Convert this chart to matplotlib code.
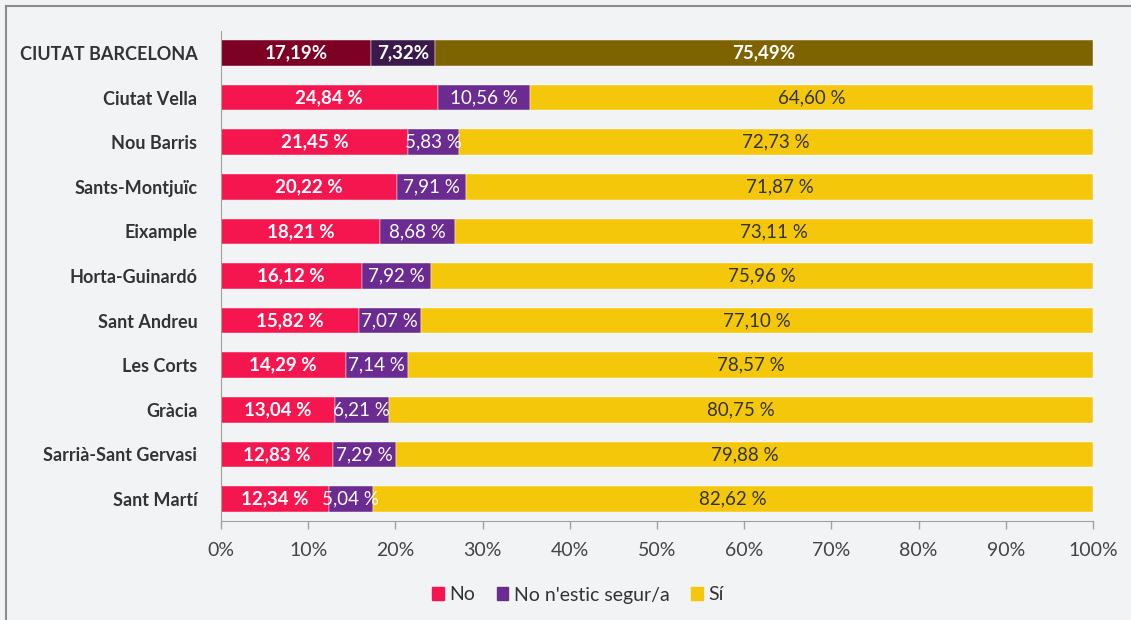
import matplotlib.pyplot as plt
from matplotlib.lines import Line2D
from matplotlib.patches import Patch

plt.rcParams['font.family'] = ['Lato', 'DejaVu Sans']

# dades
districtes = ['CIUTAT BARCELONA', 'Ciutat Vella', 'Nou Barris', 'Sants-Montjuïc',
              'Eixample', 'Horta-Guinardó', 'Sant Andreu', 'Les Corts', 'Gràcia',
              'Sarrià-Sant Gervasi', 'Sant Martí']
no = [17.19, 24.84, 21.45, 20.22, 18.21, 16.12, 15.82, 14.29, 13.04, 12.83, 12.34]
no_segur = [7.32, 10.56, 5.83, 7.91, 8.68, 7.92, 7.07, 7.14, 6.21, 7.29, 5.04]
si = [75.49, 64.60, 72.73, 71.87, 73.11, 75.96, 77.10, 78.57, 80.75, 79.88, 82.62]
xticks = [0, 10, 20, 30, 40, 50, 60, 70, 80, 90, 100]

bg = '#F2F3F5'
c_no, c_ns, c_si = '#F5164F', '#6A2C91', '#F5C70A'
c_no_bcn, c_ns_bcn, c_si_bcn = '#7D0025', '#3A1A4A', '#7E6400'

fig = plt.figure(figsize=(11.31, 6.2), dpi=100, facecolor=bg)
ax = fig.add_axes([221 / 1131, 1 - 521.3 / 620, 872 / 1131, 490.6 / 620])
ax.set_facecolor(bg)

y = list(range(len(districtes)))
h = 0.57
for i in y:
    bcn = i == 0
    cols = (c_no_bcn, c_ns_bcn, c_si_bcn) if bcn else (c_no, c_ns, c_si)
    left = 0
    for j, (val, col) in enumerate(zip((no[i], no_segur[i], si[i]), cols)):
        ax.barh(i, val, left=left, height=h, color=col, edgecolor='white',
                linewidth=0.3)
        if bcn:
            txt = f'{val:.2f}%'.replace('.', ',')
            tc, fw = 'white', 'bold'
        else:
            txt = f'{val:.2f} %'.replace('.', ',')
            tc = ['white', 'white', '#333333'][j]
            fw = ['bold', 'normal', 'normal'][j]
        ax.text(left + val / 2, i, txt, ha='center', va='center', fontsize=13.5,
                color=tc, fontweight=fw)
        left += val

ax.set_xlim(0, 100)
ax.set_ylim(len(districtes) - 0.5, -0.5)
ax.set_yticks(y)
ax.set_yticklabels(districtes, fontsize=13, fontweight='bold', color='#333333')
ax.set_xticks(xticks)
ax.set_xticklabels([f'{t}%' for t in xticks], fontsize=14, color='#444444')
ax.tick_params(axis='y', length=0, pad=17)
ax.tick_params(axis='x', length=6, color='#A0A0A0', width=1, pad=9)
for s in ['top', 'right']:
    ax.spines[s].set_visible(False)
ax.spines['left'].set_color('#A0A0A0')
ax.spines['bottom'].set_color('#A0A0A0')

handles = [Patch(color=c_no), Patch(color=c_ns), Patch(color=c_si)]
fig.legend(handles, ['No', "No n'estic segur/a", 'Sí'], loc='center',
           bbox_to_anchor=(578 / 1131, 1 - 595 / 620), ncol=3, frameon=False,
           fontsize=14, handlelength=0.6, handleheight=0.6, handletextpad=0.3,
           columnspacing=1.1, labelcolor='#333333')

# marc
fig.add_artist(Line2D([6 / 1131, 6 / 1131], [0, 1 - 6 / 620], color='#8C8C8C',
                      lw=1.5, transform=fig.transFigure))
fig.add_artist(Line2D([6 / 1131, 1], [1 - 6 / 620, 1 - 6 / 620], color='#8C8C8C',
                      lw=1.5, transform=fig.transFigure))

fig.savefig('out.png', dpi=100, facecolor=bg)
